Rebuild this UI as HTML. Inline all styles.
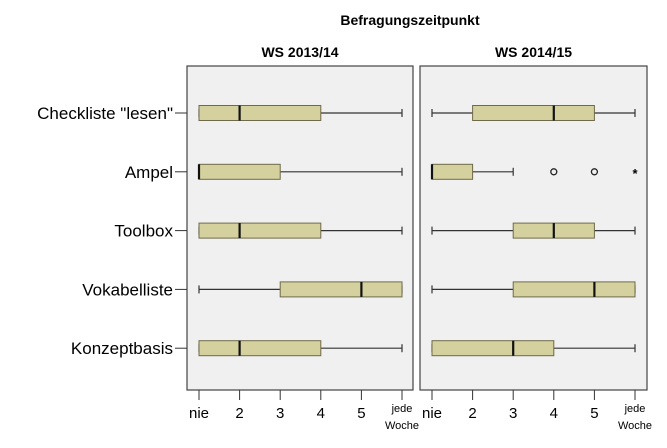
<!DOCTYPE html>
<html><head><meta charset="utf-8"><style>
body{margin:0;background:#fff;}
svg{display:block;font-family:"Liberation Sans",sans-serif;}
</style></head><body>
<svg id="c" width="667" height="448">
<text x="410" y="25" font-size="14" font-weight="bold" text-anchor="middle">Befragungszeitpunkt</text>
</svg>
<script>
const categories=["Checkliste \"lesen\"","Ampel","Toolbox","Vokabelliste","Konzeptbasis"];
const panels=["WS 2013/14","WS 2014/15"];
const tickLabels=["nie","2","3","4","5","jede"];
// [min,q1,median,q3,max]
const stats2013=[[1,1,2,4,6],[1,1,1,3,6],[1,1,2,4,6],[1,3,5,6,6],[1,1,2,4,6]];
const stats2014=[[1,2,4,5,6],[1,1,1,2,3],[1,3,4,5,6],[1,3,5,6,6],[1,1,3,4,6]];
const outliers2014=[[1,4,"o"],[1,5,"o"],[1,6,"*"]];
const NS="http://www.w3.org/2000/svg";
const svg=document.getElementById('c');
function mk(t,a,p){const e=document.createElementNS(NS,t);for(const k in a)e.setAttribute(k,a[k]);(p||svg).appendChild(e);return e;}
const px=[{x0:187,x1:413,v1:199,v6:402},{x0:420,x1:647,v1:432,v6:635}];
const plotTop=66,plotBot=390;
function yOf(i){return 113+i*58.8;}
const allStats=[stats2013,stats2014];
px.forEach((p,pi)=>{
  const g=mk('g',{});
  
  
  const xs=v=>p.v1+(v-1)*(p.v6-p.v1)/5;
  const bg=mk('rect',{x:p.x0,y:plotTop,width:p.x1-p.x0,height:plotBot-plotTop,fill:'#f0f0f0',stroke:'#444','stroke-width':1.2},g);
  
  
  const t=mk('text',{x:(p.x0+p.x1)/2,y:57,'font-size':14,'font-weight':'bold','text-anchor':'middle'},g);
  t.textContent=panels[pi];
  
  
  tickLabels.forEach((lb,k)=>{
    const x=xs(k+1);
    mk('line',{x1:x,x2:x,y1:plotBot,y2:plotBot+10,stroke:'#333','stroke-width':1},g);
    if(lb==='jede'){
      const a=mk('text',{x:x,y:plotBot+22,'font-size':11,'text-anchor':'middle'},g);a.textContent='jede';
      
      
      const b=mk('text',{x:x,y:plotBot+39,'font-size':11,'text-anchor':'middle'},g);b.textContent='Woche';
      
      
    }else{
      const a=mk('text',{x:x,y:plotBot+28,'font-size':15,'text-anchor':'middle'},g);a.textContent=lb;
      
      
    }
  });
  allStats[pi].forEach((s,i)=>{
    const y=yOf(i);
    const bx=mk('g',{},g);
    
    
    mk('line',{x1:xs(s[0]),x2:xs(s[4]),y1:y,y2:y,stroke:'#333','stroke-width':1.2},bx);
    mk('line',{x1:xs(s[0]),x2:xs(s[0]),y1:y-4,y2:y+4,stroke:'#333','stroke-width':1.2},bx);
    mk('line',{x1:xs(s[4]),x2:xs(s[4]),y1:y-4,y2:y+4,stroke:'#333','stroke-width':1.2},bx);
    mk('rect',{x:xs(s[1]),y:y-7.5,width:Math.max(xs(s[3])-xs(s[1]),1),height:15,fill:'#d5d19f',stroke:'#6e6a4a','stroke-width':1},bx);
    mk('line',{x1:xs(s[2]),x2:xs(s[2]),y1:y-7.5,y2:y+7.5,stroke:'#111','stroke-width':2.2},bx);
  });
  if(pi===1){
    outliers2014.forEach(o=>{
      const x=xs(o[1]),y=yOf(o[0]);
      if(o[2]==='o'){
        const c=mk('circle',{cx:x,cy:y,r:3,fill:'none',stroke:'#222','stroke-width':1.3},g);
        
        
      } else {
        const s=mk('text',{x:x,y:y+6,'font-size':13,'text-anchor':'middle','font-weight':'bold'},g);s.textContent='*';
        
        
      }
    });
  }
});
categories.forEach((c,i)=>{
  const y=yOf(i);
  mk('line',{x1:175,x2:187,y1:y,y2:y,stroke:'#333','stroke-width':1});
  const t=mk('text',{x:173,y:y+6,'font-size':17,'text-anchor':'end'});
  t.textContent=c;
  
  
});
</script>
</body></html>
